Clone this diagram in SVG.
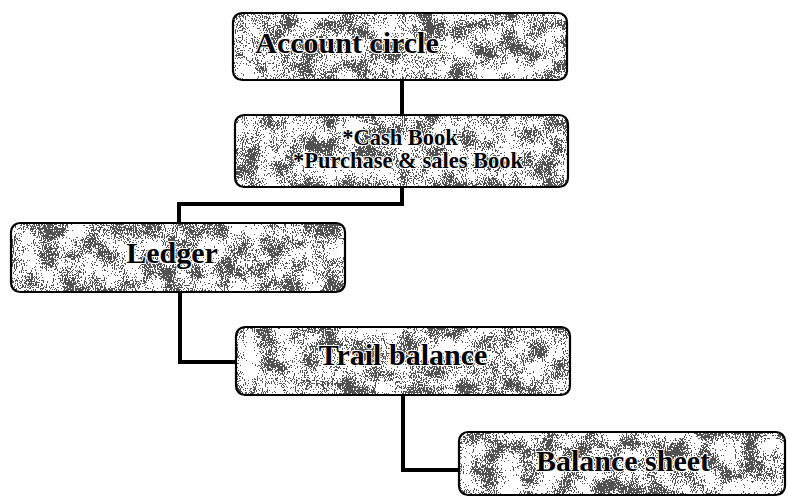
<svg xmlns="http://www.w3.org/2000/svg" width="788" height="497" viewBox="0 0 788 497">
  <defs>
    <!-- speckled scan-like grey fill: fine dither noise thinned out by coarse light blotches -->
    <filter id="speckle" x="0" y="0" width="100%" height="100%" color-interpolation-filters="sRGB">
      <feTurbulence type="fractalNoise" baseFrequency="1.1 0.6" numOctaves="1" seed="4" result="fine"/>
      <feColorMatrix in="fine" type="matrix" values="0 0 0 0 0  0 0 0 0 0  0 0 0 0 0  1 0 0 0 0" result="fineA"/>
      <feTurbulence type="fractalNoise" baseFrequency="0.05" numOctaves="2" seed="11" result="coarse"/>
      <feColorMatrix in="coarse" type="matrix" values="0 0 0 0 0  0 0 0 0 0  0 0 0 0 0  1 0 0 0 0" result="coarseA"/>
      <feComposite in="fineA" in2="coarseA" operator="arithmetic" k1="0" k2="1" k3="0.7" k4="-0.35" result="mix"/>
      <feComponentTransfer in="mix" result="dots">
        <feFuncA type="discrete" tableValues="0 0 0 0 0 0 0 0 0 0 0 0.85 0.85 0.85 0.85 0.85 0.85 0.85 0.85 0.85"/>
      </feComponentTransfer>
      <feFlood flood-color="#ffffff" result="paper"/>
      <feFlood flood-color="#333333" result="ink"/>
      <feComposite in="ink" in2="dots" operator="in" result="inkDots"/>
      <feComposite in="inkDots" in2="paper" operator="over" result="tex"/>
      <feComposite in="tex" in2="SourceAlpha" operator="in"/>
    </filter>
    <style>
      .fill { fill: #bbbbbb; filter: url(#speckle); }
      .edge { fill: none; stroke: #000; stroke-width: 2.2; }
      .lbl { font-family: "Liberation Serif", "Times New Roman", serif; fill: #000; font-weight: bold; text-anchor: middle;
             stroke: #ffffff; stroke-width: 2; stroke-linejoin: round; paint-order: stroke; }
      .big { font-size: 30px; }
      .small { font-size: 22.5px; }
      .link { fill: none; stroke: #000; stroke-width: 4; stroke-linejoin: miter; }
    </style>
  </defs>

  <rect width="788" height="497" fill="#ffffff"/>

  <!-- connectors -->
  <g id="connectors">
    <path class="link" d="M402 80 V116"/>
    <path class="link" d="M402 187 V204 H179 V223"/>
    <path class="link" d="M180 292 V362 H237"/>
    <path class="link" d="M403 395 V470 H459"/>
  </g>

  <g id="account-circle">
    <rect class="fill" x="233" y="13" width="334" height="67" rx="9"/>
    <rect class="edge" x="233" y="13" width="334" height="67" rx="9"/>
    <text class="lbl big" x="347" y="53">Account circle</text>
  </g>

  <g id="books">
    <rect class="fill" x="235" y="115" width="333" height="72" rx="9"/>
    <rect class="edge" x="235" y="115" width="333" height="72" rx="9"/>
    <text class="lbl small" x="400" y="145">*Cash Book</text>
    <text class="lbl small" x="408" y="168">*Purchase &amp; sales Book</text>
  </g>

  <g id="ledger">
    <rect class="fill" x="11" y="223" width="334" height="69" rx="9"/>
    <rect class="edge" x="11" y="223" width="334" height="69" rx="9"/>
    <text class="lbl big" x="172" y="263">Ledger</text>
  </g>

  <g id="trail-balance">
    <rect class="fill" x="236" y="327" width="334" height="68" rx="9"/>
    <rect class="edge" x="236" y="327" width="334" height="68" rx="9"/>
    <text class="lbl big" x="403" y="365">Trail balance</text>
  </g>

  <g id="balance-sheet">
    <rect class="fill" x="459" y="432" width="326" height="63" rx="9"/>
    <rect class="edge" x="459" y="432" width="326" height="63" rx="9"/>
    <text class="lbl big" x="623" y="471">Balance sheet</text>
  </g>
</svg>
